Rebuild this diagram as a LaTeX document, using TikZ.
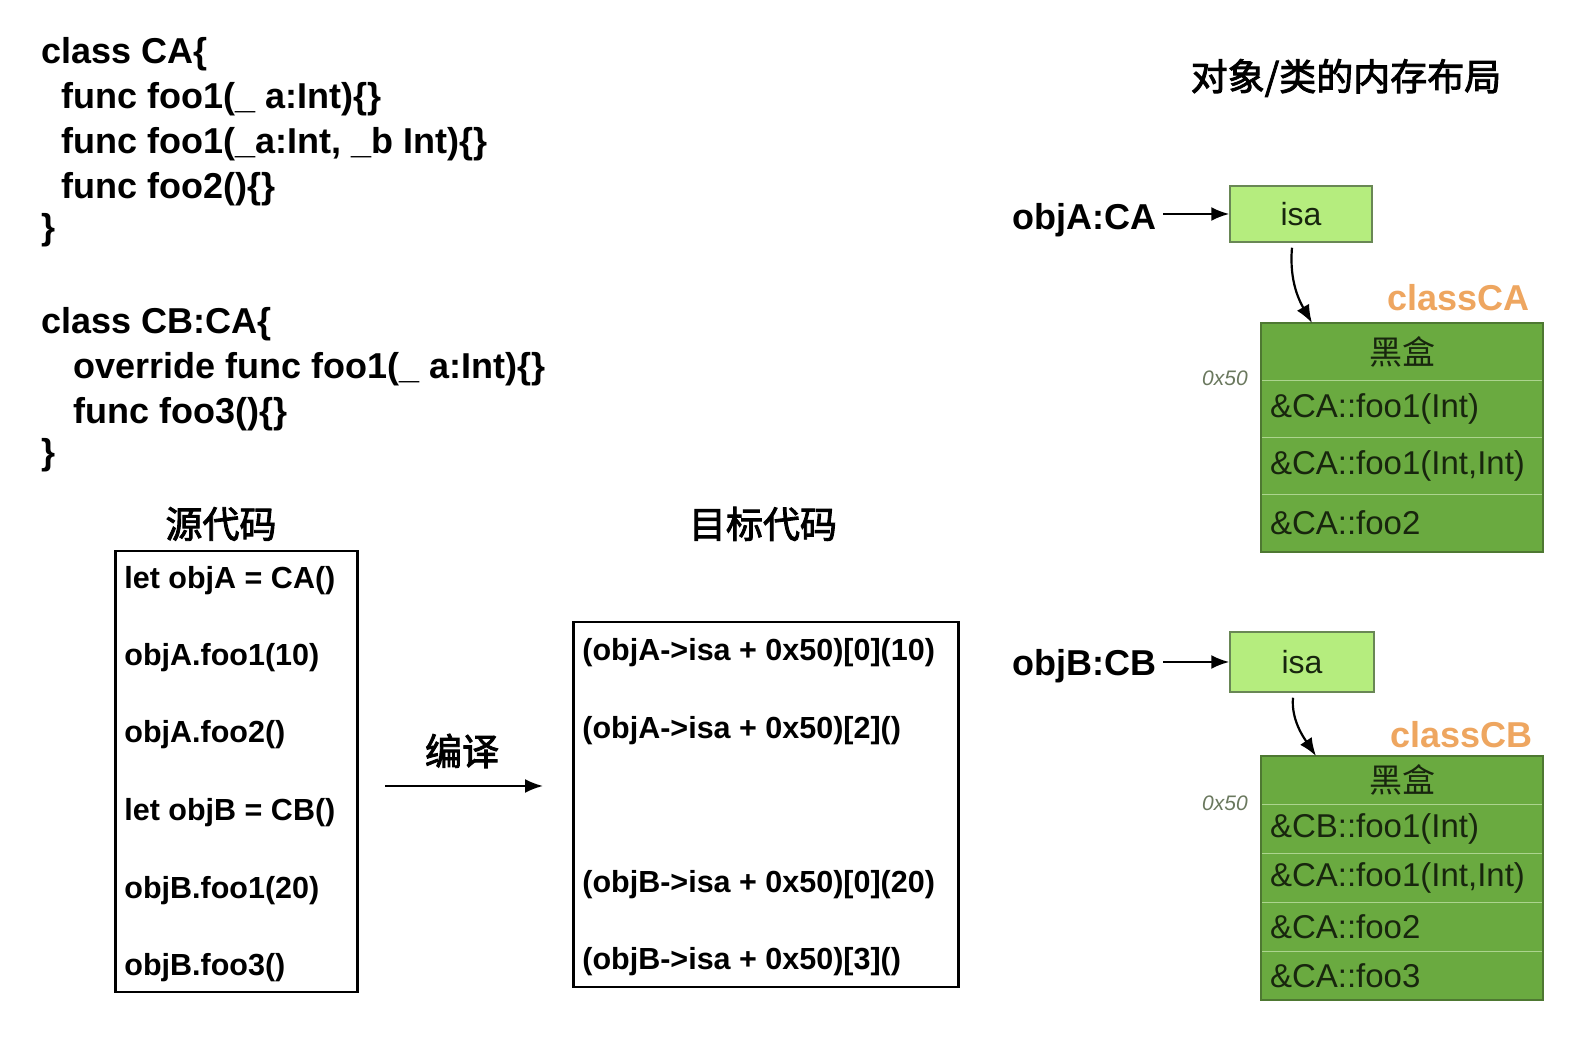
\documentclass[tikz,border=0pt]{standalone}
\usepackage{fontspec}
\setmainfont{Liberation Sans}
\newfontfamily\cjk{Noto Sans CJK SC}
\newcommand\medweight[1]{\special{pdf:literal direct 2 Tr 0.45 w}#1\special{pdf:literal direct 0 Tr}}
\usepackage{tikz}
\usetikzlibrary{positioning,arrows.meta}
\definecolor{isagreen}{RGB}{181,237,126}
\definecolor{isaline}{RGB}{105,135,85}
\definecolor{classgreen}{RGB}{106,170,64}
\definecolor{classline}{RGB}{78,120,50}
\definecolor{sepline}{RGB}{172,212,142}
\definecolor{tabtext}{RGB}{24,38,14}
\definecolor{labelorange}{RGB}{238,166,96}
\definecolor{hexgray}{RGB}{106,120,94}

\begin{document}
\begin{tikzpicture}[x=0.5pt,y=-0.5pt,
    code/.style={anchor=base west, inner sep=0pt, font=\bfseries\fontsize{18}{22}\selectfont},
    codeline/.style={anchor=base west, inner sep=0pt, font=\bfseries\fontsize{15.25}{18}\selectfont},
    title/.style={inner sep=0pt, font=\cjk\fontsize{18.5}{22}\selectfont},
    codebox/.style={draw, line width=1.25pt, anchor=north west, inner sep=0pt},
    arr/.style={-{Latex[length=9pt,width=7pt]}, line width=1.1pt},
    isabox/.style={draw=isaline, fill=isagreen, line width=0.75pt, text=tabtext,
      font=\fontsize{16}{19}\selectfont},
    cell/.style={draw=sepline, fill=classgreen, line width=0.5pt, outer sep=0pt,
      minimum width=141pt, text width=132pt, inner xsep=4.5pt, align=left, text=tabtext,
      font=\fontsize{16.5}{20}\selectfont},
    hdr/.style={cell, align=center, font=\cjk\fontsize{16.5}{19}\selectfont},
    classlabel/.style={anchor=base east, inner sep=0pt, text=labelorange,
      font=\bfseries\fontsize{18}{22}\selectfont},
    offset/.style={inner sep=0pt, text=hexgray, font=\itshape\fontsize{10.5}{12}\selectfont},
    objlabel/.style={anchor=base east, inner sep=0pt, font=\bfseries\fontsize{18}{22}\selectfont}]
  \useasboundingbox (0,0) rectangle (1576,1052);

  % swift source
  \node[code] (ca1) at (41,64) {class CA\{};
  \node[code] (ca2) at (61,109) {func foo1(\_ a:Int)\{\}};
  \node[code] (ca3) at (61,154) {func foo1(\_a:Int, \_b Int)\{\}};
  \node[code] (ca4) at (61,199) {func foo2()\{\}};
  \node[code] (ca5) at (41,240) {\}};
  \node[code] (cb1) at (41,334) {class CB:CA\{};
  \node[code] (cb2) at (73,379) {override func foo1(\_ a:Int)\{\}};
  \node[code] (cb3) at (73,424) {func foo3()\{\}};
  \node[code] (cb4) at (41,465) {\}};

  % source / target code
  \node[title] (srctitle) at (221,524) {\medweight{源代码}};
  \node[title] (tgttitle) at (763,524) {\medweight{目标代码}};
  \node[codebox, minimum width=121pt, minimum height=220.5pt] (src) at (114,550) {};
  \node[codebox, minimum width=192.5pt, minimum height=182.5pt] (tgt) at (572,621) {};
  \node[codeline] (s1) at (124,589) {let objA = CA()};
  \node[codeline] (s2) at (124,666) {objA.foo1(10)};
  \node[codeline] (s3) at (124,743) {objA.foo2()};
  \node[codeline] (s4) at (124,821) {let objB = CB()};
  \node[codeline] (s5) at (124,899) {objB.foo1(20)};
  \node[codeline] (s6) at (124,976) {objB.foo3()};
  \node[codeline] (t1) at (582,661) {(objA->isa + 0x50)[0](10)};
  \node[codeline] (t2) at (582,739) {(objA->isa + 0x50)[2]()};
  \node[codeline] (t3) at (582,893) {(objB->isa + 0x50)[0](20)};
  \node[codeline] (t4) at (582,970) {(objB->isa + 0x50)[3]()};
  \coordinate (compstart) at (385,786);
  \coordinate (compend) at (543,786);
  \draw[arr] (compstart) -- (compend);
  \node[title] (compile) at (462,751) {\medweight{编译}};

  % memory layout
  \node[title] (layout) at (1346,78) {\medweight{对象/类的内存布局}};

  \node[isabox, minimum width=71pt, minimum height=28pt] (isaA) at (1301,214) {isa};
  \node[objlabel] (objA) at (1157,230) {objA:CA};
  \draw[arr] (isaA.west -| objA.east) ++(3pt,0) -- (isaA.west);
  \node[classlabel] (labCA) at (1530,311) {classCA};
  \node[hdr, minimum height=28.6pt, anchor=north] (hdrA) at (1402,323) {黑盒};
  \node[cell, minimum height=28.6pt, below=0pt of hdrA] (rowA1) {\&CA::foo1(Int)};
  \node[cell, minimum height=28.6pt, below=0pt of rowA1] (rowA2) {\&CA::foo1(Int,Int)};
  \node[cell, minimum height=28.6pt, below=0pt of rowA2] (rowA3) {\&CA::foo2};
  \draw[classline, line width=0.8pt] (hdrA.north west) rectangle (rowA3.south east);
  \node[offset] (offA) at (1225,378) {0x50};
  \draw[arr] ([xshift=-4.5pt,yshift=-2.5pt]isaA.south) .. controls (1289,282) and (1300,302) .. ([xshift=25.5pt]hdrA.north west);

  \node[isabox, minimum width=72pt, minimum height=30pt] (isaB) at (1302,662) {isa};
  \node[objlabel] (objB) at (1157,676) {objB:CB};
  \draw[arr] (isaB.west -| objB.east) ++(3pt,0) -- (isaB.west);
  \node[classlabel] (labCB) at (1533,748) {classCB};
  \node[hdr, minimum height=24.4pt, anchor=north] (hdrB) at (1402,756) {黑盒};
  \node[cell, minimum height=24.4pt, below=0pt of hdrB] (rowB1) {\&CB::foo1(Int)};
  \node[cell, minimum height=24.4pt, below=0pt of rowB1] (rowB2) {\&CA::foo1(Int,Int)};
  \node[cell, minimum height=24.4pt, below=0pt of rowB2] (rowB3) {\&CA::foo2};
  \node[cell, minimum height=24.4pt, below=0pt of rowB3] (rowB4) {\&CA::foo3};
  \draw[classline, line width=0.8pt] (hdrB.north west) rectangle (rowB4.south east);
  \node[offset] (offB) at (1225,803) {0x50};
  \draw[arr] ([xshift=-4.5pt,yshift=-2.5pt]isaB.south) .. controls (1291,720) and (1304,738) .. ([xshift=27.5pt]hdrB.north west);
\end{tikzpicture}
\end{document}
